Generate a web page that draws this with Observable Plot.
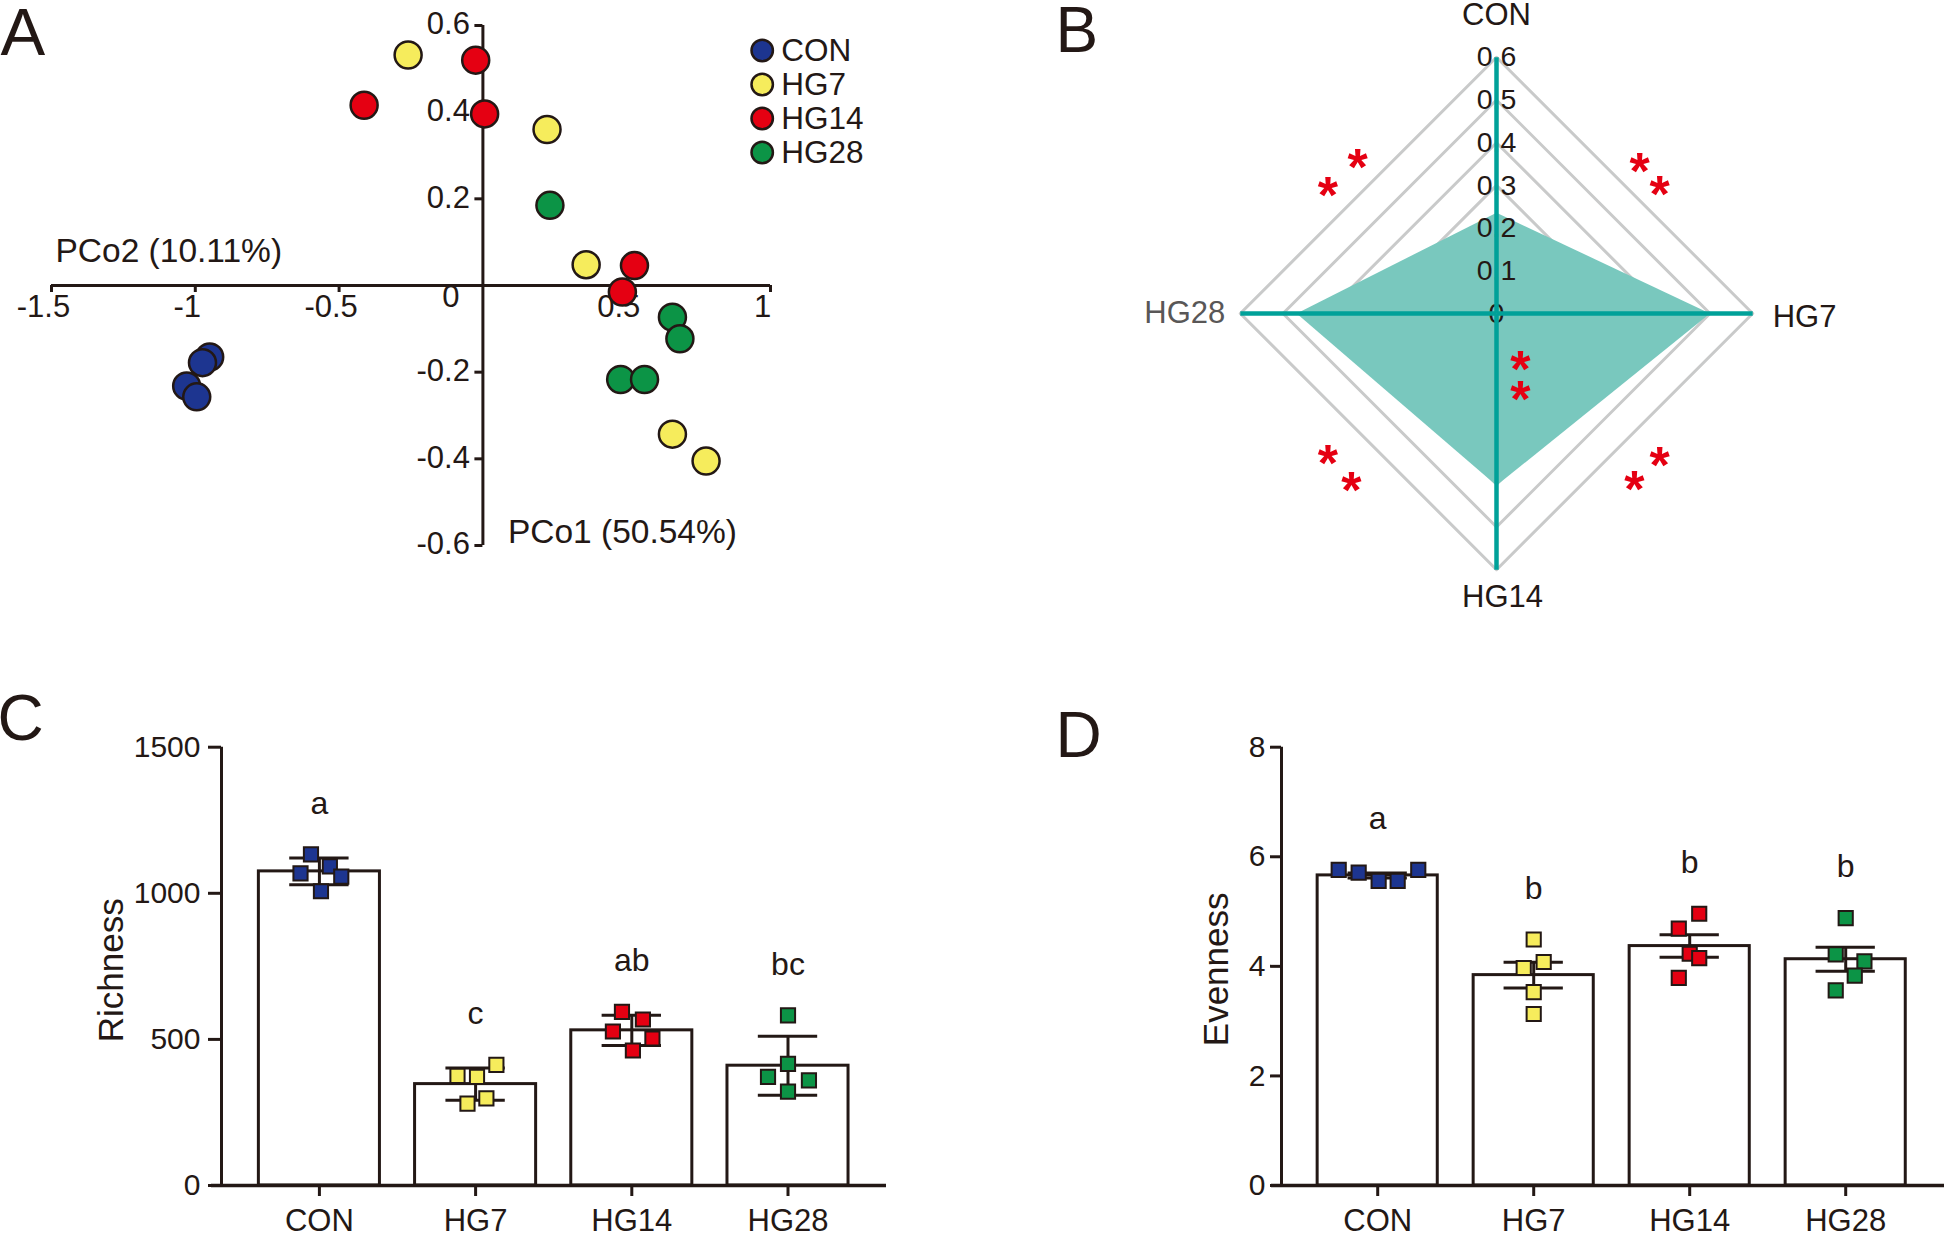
<!DOCTYPE html>
<html>
<head>
<meta charset="utf-8">
<script src="https://cdn.jsdelivr.net/npm/d3@7"></script>
<script src="https://cdn.jsdelivr.net/npm/@observablehq/plot@0.6"></script>
<style>
  html, body { margin: 0; padding: 0; background: #fff; }
  #fig { position: relative; width: 1944px; height: 1234px; overflow: hidden; background: #fff; }
</style>
</head>
<body>
<div id="fig"></div>
<script>
// ---------- shared ----------
const groups = ["CON", "HG7", "HG14", "HG28"];
const groupColors = ["#1d3590", "#f6ec5c", "#e50012", "#0c9446"];

// ---------- Panel A : PCoA ----------
const pcoaGroup = ["CON","CON","CON","CON",
  "HG7","HG7","HG7","HG7","HG7",
  "HG14","HG14","HG14","HG14","HG14",
  "HG28","HG28","HG28","HG28","HG28"];
const pcoaX = [-0.95, -0.975, -1.03, -0.995,
  -0.26, 0.223, 0.359, 0.659, 0.776,
  -0.025, -0.413, 0.006, 0.527, 0.485,
  0.233, 0.659, 0.685, 0.479, 0.562];
const pcoaY = [-0.165, -0.178, -0.232, -0.257,
  0.532, 0.36, 0.048, -0.343, -0.405,
  0.52, 0.416, 0.396, 0.046, -0.015,
  0.185, -0.073, -0.123, -0.217, -0.217];
const pcoaXTicks = [-1.5, -1, -0.5, 0.5, 1];
const pcoaYTicks = [0.6, 0.4, 0.2, -0.2, -0.4, -0.6];
const pcoaXLabel = "PCo2 (10.11%)";
const pcoaYLabel = "PCo1 (50.54%)";

// ---------- Panel B : radar ----------
const radarAxes = ["CON", "HG7", "HG14", "HG28"];
const radarValues = [0.236, 0.50, 0.403, 0.468];
const radarLevels = [0.1, 0.2, 0.3, 0.4, 0.5, 0.6];
const radarTickValues = [0, 0.1, 0.2, 0.3, 0.4, 0.5, 0.6];
const radarTickLabels = ["0", "0.1", "0.2", "0.3", "0.4", "0.5", "0.6"];
const radarStarX = [-0.325, -0.395, 0.335, 0.382, 0.056, 0.056, -0.395, -0.340, 0.382, 0.323];
const radarStarY = [0.370, 0.304, 0.361, 0.307, -0.102, -0.174, -0.322, -0.385, -0.327, -0.383];

// ---------- Panel C : richness ----------
const richnessCON = [1133, 1068, 1092, 1057, 1007];
const richnessHG7 = [413, 375, 372, 298, 280];
const richnessHG14 = [594, 568, 527, 503, 462];
const richnessHG28 = [582, 416, 372, 360, 321];
const richnessMean = [1075, 347, 531, 410];
const richnessErr = [46, 55, 52, 101];
const richnessLetters = ["a", "c", "ab", "bc"];
const richnessTicks = [0, 500, 1000, 1500];
const richnessJitter = [[-0.054, -0.121, 0.067, 0.140, 0.010],
  [0.133, -0.116, 0.009, 0.069, -0.052],
  [-0.063, 0.071, -0.121, 0.132, 0.007],
  [0, 0, -0.128, 0.134, 0]];

// ---------- Panel D : evenness ----------
const evennessCON = [5.76, 5.71, 5.56, 5.56, 5.76];
const evennessHG7 = [4.49, 4.08, 3.97, 3.53, 3.13];
const evennessHG14 = [4.96, 4.69, 4.23, 4.15, 3.79];
const evennessHG28 = [4.88, 4.22, 4.09, 3.83, 3.56];
const evennessMean = [5.66, 3.84, 4.37, 4.13];
const evennessErr = [0.046, 0.235, 0.205, 0.22];
const evennessLetters = ["a", "b", "b", "b"];
const evennessTicks = [0, 2, 4, 6, 8];
const evennessJitter = [[-0.25, -0.122, 0.006, 0.128, 0.26],
  [0, 0.064, -0.064, 0, 0],
  [0.061, -0.07, 0, 0.061, -0.07],
  [0, -0.064, 0.12, 0.058, -0.064]];

// ---------- helpers ----------
const FONT = "'Liberation Sans', Arial, Helvetica, sans-serif";
const INK = "#231815";
const fig = document.getElementById("fig");
function place(svg, left, top) {
  Object.assign(svg.style, {position: "absolute", left: left + "px", top: top + "px",
    background: "transparent", overflow: "visible", maxWidth: "none"});
  fig.appendChild(svg);
}
const baseStyle = {fontFamily: FONT, color: INK, background: "transparent", overflow: "visible"};

// ---------- Panel A ----------
{
  const pts = pcoaX.map((x, i) => ({x, y: pcoaY[i], g: pcoaGroup[i]}));
  const W = 880, H = 600, mL = 51, mR = 110, mT = 25, mB = 55;
  const pxX = (W - mL - mR) / 2.5, pxY = (H - mT - mB) / 1.2;
  const svg = Plot.plot({
    width: W, height: H, marginLeft: mL, marginRight: mR, marginTop: mT, marginBottom: mB,
    style: baseStyle,
    x: {domain: [-1.5, 1], axis: null},
    y: {domain: [-0.6, 0.6], axis: null},
    color: {domain: groups, range: groupColors},
    marks: [
      Plot.ruleY([0], {x1: -1.5, x2: 1, stroke: INK, strokeWidth: 3}),
      Plot.ruleX([0], {y1: -0.6, y2: 0.6, stroke: INK, strokeWidth: 3}),
      Plot.ruleX(pcoaXTicks, {x: d => d, y1: 0, y2: -7 / pxY, stroke: INK, strokeWidth: 3}),
      Plot.ruleY(pcoaYTicks, {y: d => d, x1: -8 / pxX, x2: 0, stroke: INK, strokeWidth: 3}),
      Plot.text(pcoaXTicks, {x: d => d, y: 0, text: d => String(d), dx: -8, dy: 22, fontSize: 31}),
      Plot.text(["0"], {x: 0, y: 0, text: d => d, dx: -32, dy: 12, fontSize: 31}),
      Plot.text(pcoaYTicks, {x: 0, y: d => d, text: d => String(d), textAnchor: "end", dx: -13, dy: -1, fontSize: 31}),
      Plot.text([pcoaXLabel], {x: -1.5, y: 0, text: d => d, textAnchor: "start", dx: 4, dy: -34, fontSize: 33.5}),
      Plot.text([pcoaYLabel], {x: 0, y: -0.6, text: d => d, textAnchor: "start", dx: 25, dy: -13, fontSize: 33.5}),
      Plot.dot(pts, {x: "x", y: "y", fill: "g", r: 13.5, stroke: INK, strokeWidth: 2.5}),
      Plot.text(["A"], {frameAnchor: "top-left", text: d => d, textAnchor: "start", lineAnchor: "top",
        dx: -51, dy: -18, fontSize: 67})
    ]
  });
  place(svg, 0, 0);

  const legend = Plot.plot({
    width: 140, height: 150, margin: 0,
    style: baseStyle,
    y: {type: "point", domain: groups, range: [19.3, 122.7], padding: 0, axis: null},
    color: {domain: groups, range: groupColors},
    marks: [
      Plot.dot(groups, {y: d => d, fill: d => d, frameAnchor: "left", dx: 16.7, r: 10.7, stroke: INK, strokeWidth: 2.5}),
      Plot.text(groups, {y: d => d, text: d => d, frameAnchor: "left", dx: 35.7, textAnchor: "start", fontSize: 31.5})
    ]
  });
  place(legend, 745, 30);
}

// ---------- Panel B ----------
{
  const dirs = radarAxes.map((a, i) => [Math.round(Math.sin(i * Math.PI / 2)), Math.round(Math.cos(i * Math.PI / 2))]);
  const rMax = d3.max(radarLevels);
  const grid = radarLevels.flatMap(l => dirs.map(([dx, dy]) => ({l, x: dx * l, y: dy * l})));
  const poly = radarValues.map((v, i) => ({x: dirs[i][0] * v, y: dirs[i][1] * v}));
  const spokes = radarAxes.map((a, i) => ({a, x: dirs[i][0] * rMax, y: dirs[i][1] * rMax}));
  const stars = radarStarX.map((x, i) => ({x, y: radarStarY[i]}));
  const ticks = radarTickValues.map((v, i) => ({v, t: radarTickLabels[i]}));
  const byName = n => spokes.filter(s => s.a === n);
  const svg = Plot.plot({
    width: 860, height: 640, marginLeft: 199.8, marginRight: 147.8, marginTop: 56.8, marginBottom: 70.8,
    style: baseStyle,
    x: {domain: [-rMax, rMax], axis: null},
    y: {domain: [-rMax, rMax], axis: null},
    marks: [
      Plot.line(grid, {x: "x", y: "y", z: "l", curve: "linear-closed", stroke: "#c9caca", strokeWidth: 3}),
      Plot.line(poly, {x: "x", y: "y", curve: "linear-closed", fill: "#79c8be", stroke: "none"}),
      Plot.text(ticks, {x: 0, y: "v", text: "t", fontSize: 28.5}),
      Plot.link(spokes, {x1: 0, y1: 0, x2: "x", y2: "y", stroke: "#00a199", strokeWidth: 4.5}),
      Plot.text(byName("CON"), {x: "x", y: "y", text: "a", dy: -42, fontSize: 31}),
      Plot.text(byName("HG7"), {x: "x", y: "y", text: "a", textAnchor: "start", dx: 20, dy: 4, fontSize: 31}),
      Plot.text(byName("HG14"), {x: "x", y: "y", text: "a", dx: 6, dy: 27, fontSize: 31}),
      Plot.text(byName("HG28"), {x: "x", y: "y", text: "a", textAnchor: "end", dx: -15, fontSize: 31, fill: "#595757"}),
      Plot.text(stars, {x: "x", y: "y", text: () => "*", fill: "#e50012", fontSize: 52, fontWeight: "bold", dy: 13}),
      Plot.text(["B"], {frameAnchor: "top-left", text: d => d, textAnchor: "start", lineAnchor: "top",
        dx: -184.8, dy: -50.8, fontSize: 64})
    ]
  });
  place(svg, 1040, 0);
}

// ---------- Panels C & D ----------
function barPanel(o) {
  const table = groups.map((g, i) => ({
    i, g, mean: o.mean[i], err: o.err[i], letter: o.letters[i],
    top: Math.max(o.mean[i] + o.err[i], d3.max(o.points[i]))
  }));
  const pts = groups.flatMap((g, i) => o.points[i].map((v, k) => ({g, v, x: i + o.jitter[i][k]})));
  const half = o.barHalf, cap = 0.19;
  const yMax = d3.max(o.yTicks);
  return Plot.plot({
    width: o.width, height: o.height,
    marginLeft: o.mL, marginRight: o.mR, marginTop: o.mT, marginBottom: o.mB,
    style: baseStyle,
    x: {domain: o.xDomain},
    y: {domain: [0, yMax]},
    color: {domain: groups, range: groupColors},
    marks: [
      Plot.rect(table, {x1: d => d.i - half, x2: d => d.i + half, y1: 0, y2: "mean",
        fill: "white", stroke: INK, strokeWidth: 3}),
      Plot.ruleX(table, {x: "i", y1: d => d.mean - d.err, y2: d => d.mean + d.err, stroke: INK, strokeWidth: 3}),
      Plot.ruleY(table, {y: d => d.mean + d.err, x1: d => d.i - cap, x2: d => d.i + cap, stroke: INK, strokeWidth: 3}),
      Plot.ruleY(table, {y: d => d.mean - d.err, x1: d => d.i - cap, x2: d => d.i + cap, stroke: INK, strokeWidth: 3}),
      Plot.dot(pts, {x: "x", y: "v", symbol: "square", r: 8, fill: "g", stroke: INK, strokeWidth: 2}),
      Plot.text(table, {x: "i", y: "top", text: "letter", dy: o.letterDy, fontSize: 32}),
      Plot.ruleX([o.xDomain[0]], {y1: 0, y2: yMax, stroke: INK, strokeWidth: 3}),
      Plot.ruleY([0], {insetLeft: -10, stroke: INK, strokeWidth: 3.5}),
      Plot.axisY({ticks: o.yTicks, tickFormat: d => String(d), tickSize: o.yTickSize, tickPadding: o.yTickPad,
        strokeWidth: 3, fontSize: 30, label: null}),
      Plot.axisX({ticks: [0, 1, 2, 3], tickFormat: i => groups[i], tickSize: 11, tickPadding: 12,
        strokeWidth: 3, fontSize: 31, label: null}),
      Plot.text([o.yLabel], {frameAnchor: "left", text: d => d, textAnchor: "middle", rotate: -90,
        dx: o.labelDx, dy: o.labelDy, fontSize: 35}),
      Plot.text([o.panel], {frameAnchor: "top-left", text: d => d, textAnchor: "start", lineAnchor: "top",
        dx: o.panelDx, dy: o.panelDy, fontSize: 64})
    ]
  });
}

place(barPanel({
  width: 900, height: 544, mL: 221, mR: 14, mT: 56.7, mB: 49,
  xDomain: [-0.6268, 3.6306], barHalf: 0.3875,
  points: [richnessCON, richnessHG7, richnessHG14, richnessHG28],
  mean: richnessMean, err: richnessErr, letters: richnessLetters, jitter: richnessJitter,
  yTicks: richnessTicks, yTickSize: 13, yTickPad: 8, letterDy: -51,
  yLabel: "Richness", labelDx: -110, labelDy: 4,
  panel: "C", panelDx: -224, panelDy: -53
}), 0, 690);

place(barPanel({
  width: 904, height: 544, mL: 241, mR: 0, mT: 56.7, mB: 49,
  xDomain: [-0.6167, 3.6333], barHalf: 0.385,
  points: [evennessCON, evennessHG7, evennessHG14, evennessHG28],
  mean: evennessMean, err: evennessErr, letters: evennessLetters, jitter: evennessJitter,
  yTicks: evennessTicks, yTickSize: 11, yTickPad: 5, letterDy: -51,
  yLabel: "Evenness", labelDx: -65, labelDy: 3,
  panel: "D", panelDx: -226, panelDy: -35.5
}), 1040, 690);
</script>
</body>
</html>
